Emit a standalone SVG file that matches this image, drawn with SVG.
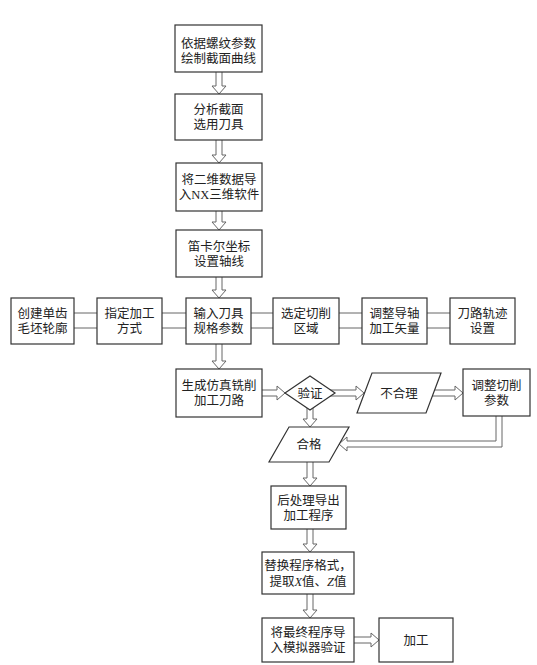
<svg xmlns="http://www.w3.org/2000/svg" width="537" height="665" viewBox="0 0 537 665">
<style>
.box{fill:#fff;stroke:#333;stroke-width:1.2}
.arr{fill:#fff;stroke:#666;stroke-width:1}
.dl{stroke:#666;stroke-width:1;fill:none}
text{font-family:"Liberation Serif","Noto Sans CJK SC",serif;font-size:12.5px;fill:#222;text-anchor:middle}
.i{font-style:italic}
</style>
<rect width="537" height="665" fill="#fff"/>
<g id="connectors">
<path class="arr" d="M216 72 V86 H212 L219 94 L226 86 H222 V72"/>
<path class="arr" d="M216 140 V155 H212 L219 163 L226 155 H222 V140"/>
<path class="arr" d="M216 211 V222 H212 L219 230 L226 222 H222 V211"/>
<path class="arr" d="M216 277 V290 H212 L219 298 L226 290 H222 V277"/>
<path class="arr" d="M216 344 V361 H212 L219 369 L226 361 H222 V344"/>
<path class="dl" d="M74 313 H97 M74 328 H97 M162 313 H186 M162 328 H186 M251 313 H273 M251 328 H273 M339 313 H362 M339 328 H362 M427 313 H450 M427 328 H450"/>
<path class="arr" d="M262 390 H277 V386 L285 393 L277 400 V396 H262"/>
<path class="arr" d="M325 390 H356 V386 L364 393 L356 400 V396 H325"/>
<path class="arr" d="M425 390 H455 V386 L463 393 L455 400 V396 H425"/>
<path class="arr" d="M307 400 V419 H303 L310 427 L317 419 H313 V400"/>
<path class="arr" d="M496 416 V441 H347 V437 L339 444 L347 451 V447 H502 V416"/>
<path class="arr" d="M307 462 V478 H303 L310 486 L317 478 H313 V462"/>
<path class="arr" d="M307 529 V544 H303 L310 552 L317 544 H313 V529"/>
<path class="arr" d="M307 594 V610 H303 L310 618 L317 610 H313 V594"/>
<path class="arr" d="M354 637 H371 V633 L379 640 L371 647 V643 H354"/>
</g>
<g id="n1"><rect class="box" x="175" y="25" width="87" height="47"/><text x="218.5" y="47.5">依据螺纹参数</text><text x="218.5" y="62.5">绘制截面曲线</text></g>
<g id="n2"><rect class="box" x="175" y="94" width="87" height="46"/><text x="218.5" y="114">分析截面</text><text x="218.5" y="129">选用刀具</text></g>
<g id="n3"><rect class="box" x="176" y="163" width="86" height="48"/><text x="219" y="184">将二维数据导</text><text x="219" y="199">入NX三维软件</text></g>
<g id="n4"><rect class="box" x="176" y="230" width="86" height="47"/><text x="219" y="250.5">笛卡尔坐标</text><text x="219" y="265.5">设置轴线</text></g>
<g id="n5"><rect class="box" x="11" y="298" width="63" height="46"/><text x="42.5" y="318">创建单齿</text><text x="42.5" y="333">毛坯轮廓</text></g>
<g id="n6"><rect class="box" x="97" y="298" width="65" height="46"/><text x="129.5" y="318">指定加工</text><text x="129.5" y="333">方式</text></g>
<g id="n7"><rect class="box" x="186" y="298" width="65" height="46"/><text x="218.5" y="318">输入刀具</text><text x="218.5" y="333">规格参数</text></g>
<g id="n8"><rect class="box" x="273" y="298" width="66" height="46"/><text x="306" y="318">选定切削</text><text x="306" y="333">区域</text></g>
<g id="n9"><rect class="box" x="362" y="298" width="65" height="46"/><text x="394.5" y="318">调整导轴</text><text x="394.5" y="333">加工矢量</text></g>
<g id="n10"><rect class="box" x="450" y="298" width="65" height="46"/><text x="482.5" y="318">刀路轨迹</text><text x="482.5" y="333">设置</text></g>
<g id="n11"><rect class="box" x="176" y="369" width="86" height="48"/><text x="219" y="390">生成仿真铣削</text><text x="219" y="405">加工刀路</text></g>
<g id="n12"><polygon class="box" points="285,393 310,376 335,393 310,410"/><text x="310" y="397.5">验证</text></g>
<g id="n13"><polygon class="box" points="372,373 441,373 426,413 357,413"/><text x="399" y="397.5">不合理</text></g>
<g id="n14"><rect class="box" x="463" y="369" width="67" height="47"/><text x="496.5" y="389.5">调整切削</text><text x="496.5" y="404.5">参数</text></g>
<g id="n15"><polygon class="box" points="289,427 349,427 329,462 269,462"/><text x="309" y="448.5">合格</text></g>
<g id="n16"><rect class="box" x="271" y="486" width="75" height="43"/><text x="308.5" y="504.5">后处理导出</text><text x="308.5" y="520">加工程序</text></g>
<g id="n17"><rect class="box" x="262" y="552" width="92" height="42"/><text x="308" y="569.5">替换程序格式，</text><text x="308" y="585.5">提取<tspan class="i">X</tspan>值、<tspan class="i">Z</tspan>值</text></g>
<g id="n18"><rect class="box" x="262" y="618" width="92" height="44"/><text x="308" y="636.5">将最终程序导</text><text x="308" y="651.5">入模拟器验证</text></g>
<g id="n19"><rect class="box" x="379" y="618" width="74" height="44"/><text x="416" y="644.5">加工</text></g>
</svg>
